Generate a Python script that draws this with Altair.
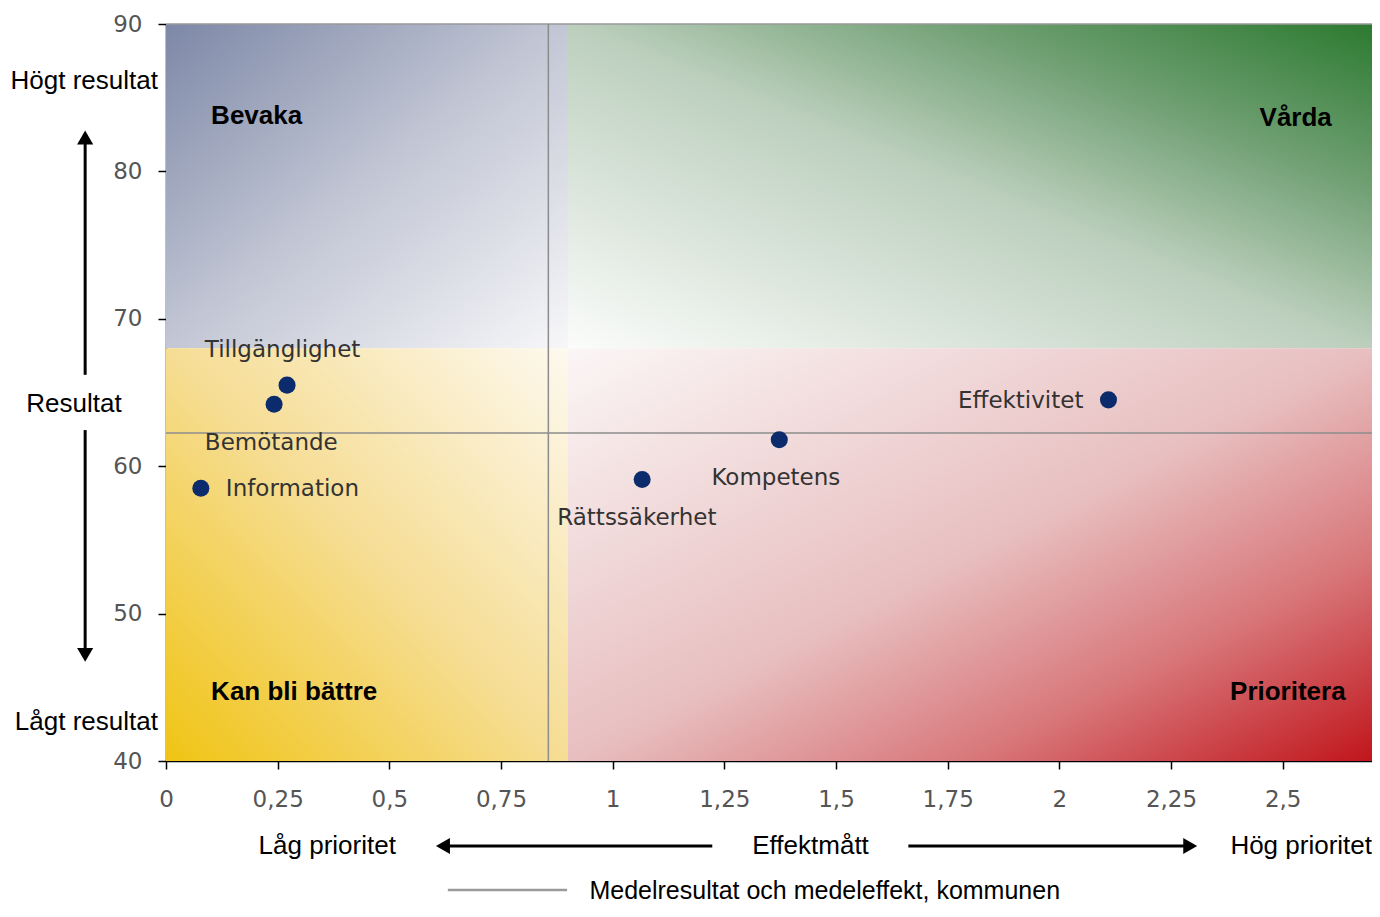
import altair as alt
import pandas as pd

# ---------------- data ----------------
names = ["Tillgänglighet", "Bemötande", "Information", "Rättssäkerhet", "Kompetens", "Effektivitet"]
effekt = [0.271, 0.242, 0.078, 1.066, 1.373, 2.110]
resultat = [65.5, 64.2, 58.5, 59.1, 61.8, 64.5]
label_x = [0.087, 0.087, 0.134, 0.876, 1.221, 2.054]
label_y = [67.9, 61.6, 58.45, 56.5, 59.2, 64.4]
label_align = ["left", "left", "left", "left", "left", "right"]

mean_effekt = 0.856
mean_resultat = 62.25

x_domain = [0, 2.7]
y_domain = [40, 90]
x_ticks = [0, 0.25, 0.5, 0.75, 1, 1.25, 1.5, 1.75, 2, 2.25, 2.5]
y_ticks = [40, 50, 60, 70, 80, 90]

quad_split_x = 0.9
quad_split_y = 68
quad_ids = ["TL", "TR", "BL", "BR"]
quad_x = [x_domain[0], quad_split_x, x_domain[0], quad_split_x]
quad_x2 = [quad_split_x, x_domain[1], quad_split_x, x_domain[1]]
quad_y = [quad_split_y, quad_split_y, y_domain[0], y_domain[0]]
quad_y2 = [y_domain[1], y_domain[1], quad_split_y, quad_split_y]

quad_names = ["Bevaka", "Vårda", "Kan bli bättre", "Prioritera"]
quad_label_x = [0.101, 2.61, 0.101, 2.641]
quad_label_y = [83.76, 83.6, 44.7, 44.7]
quad_label_align = ["left", "right", "left", "right"]

side_texts = ["Högt resultat", "Resultat", "Lågt resultat"]
side_x = [-0.018, -0.206, -0.018]
side_y = [86.13, 64.2, 42.65]
side_align = ["right", "center", "right"]

bottom_texts = ["Låg prioritet", "Effektmått", "Hög prioritet"]
bottom_x = [0.361, 1.443, 2.7]
bottom_y = [34.23, 34.23, 34.23]
bottom_align = ["center", "center", "right"]

arrow_v_x = -0.181
arrow_v_segments = [(66.2, 82.3), (47.2, 62.45)]
arrow_v_heads = [(82.3, "triangle-up"), (47.2, "triangle-down")]
arrow_h_y = 34.23
arrow_h_segments = [(0.62, 1.223), (1.662, 2.293)]
arrow_h_heads = [(0.62, "triangle-left"), (2.293, "triangle-right")]

legend_line = (0.631, 0.898, 31.25)
legend_text = "Medelresultat och medeleffekt, kommunen"
legend_text_pos = (0.948, 31.15)

# ---------------- encodings ----------------
xscale = alt.Scale(domain=x_domain, nice=False, zero=False)
yscale = alt.Scale(domain=y_domain, nice=False, zero=False)
xaxis = alt.Axis(values=x_ticks, labelExpr="replace(toString(datum.value), '.', ',')",
                 title=None, grid=False, domainColor="black", domainWidth=1.5,
                 tickColor="black", tickWidth=1.5, tickSize=8, labelPadding=19,
                 labelFont="DejaVu Sans", labelFontSize=23, labelColor="#555555",
                 labelFlush=False)
yaxis = alt.Axis(values=y_ticks, title=None, grid=False, domainColor="black", domainWidth=1.5,
                 tickColor="black", tickWidth=1.5, tickSize=8, labelPadding=16,
                 labelFont="DejaVu Sans", labelFontSize=23, labelColor="#555555",
                 labelFlush=False)


def X(f, **kw):
    return alt.X(f, type="quantitative", scale=xscale, axis=xaxis, **kw)


def Y(f, **kw):
    return alt.Y(f, type="quantitative", scale=yscale, axis=yaxis, **kw)


quad_df = pd.DataFrame({"q": quad_ids, "x": quad_x, "x2": quad_x2, "y": quad_y, "y2": quad_y2})

grads = {
    "TL": alt.LinearGradient(gradient="linear", x1=0, y1=0, x2=1, y2=1,
                             stops=[alt.GradientStop(offset=0, color="#7d88a7"),
                                    alt.GradientStop(offset=0.5, color="#c3c7d5"),
                                    alt.GradientStop(offset=1, color="#f7f7f9")]),
    "TR": alt.LinearGradient(gradient="linear", x1=1, y1=0, x2=0, y2=1,
                             stops=[alt.GradientStop(offset=0, color="#2c7a30"),
                                    alt.GradientStop(offset=0.25, color="#6f9f72"),
                                    alt.GradientStop(offset=0.5, color="#bccfbd"),
                                    alt.GradientStop(offset=1, color="#fbfcfb")]),
    "BL": alt.LinearGradient(gradient="linear", x1=0, y1=1, x2=1, y2=0,
                             stops=[alt.GradientStop(offset=0, color="#f0c414"),
                                    alt.GradientStop(offset=0.5, color="#f6dd94"),
                                    alt.GradientStop(offset=1, color="#fdf9ef")]),
    "BR": alt.LinearGradient(gradient="linear", x1=1, y1=1, x2=0, y2=0,
                             stops=[alt.GradientStop(offset=0, color="#c0161c"),
                                    alt.GradientStop(offset=0.25, color="#d8777a"),
                                    alt.GradientStop(offset=0.5, color="#e8bfc0"),
                                    alt.GradientStop(offset=1, color="#fbf6f6")]),
}

layers = []
for q in quad_ids:
    layers.append(
        alt.Chart(quad_df).transform_filter(alt.datum.q == q)
        .mark_rect(fill=grads[q], stroke=None)
        .encode(x=X("x"), x2="x2", y=Y("y"), y2="y2")
    )

# top border
top_df = pd.DataFrame({"x": [x_domain[0]], "x2": [x_domain[1]], "y": [y_domain[1]]})
layers.append(alt.Chart(top_df).mark_rule(color="#9a9a9a", strokeWidth=1.5)
              .encode(x=X("x"), x2="x2", y=Y("y")))

# mean lines
mean_h = pd.DataFrame({"x": [x_domain[0]], "x2": [x_domain[1]], "y": [mean_resultat]})
mean_v = pd.DataFrame({"x": [mean_effekt], "y": [y_domain[0]], "y2": [y_domain[1]]})
layers.append(alt.Chart(mean_h).mark_rule(color="#8c8c8c", strokeWidth=1.5)
              .encode(x=X("x"), x2="x2", y=Y("y")))
layers.append(alt.Chart(mean_v).mark_rule(color="#8c8c8c", strokeWidth=1.5)
              .encode(x=X("x"), y=Y("y"), y2="y2"))

# points
pts = pd.DataFrame({"name": names, "effekt": effekt, "resultat": resultat})
layers.append(alt.Chart(pts).mark_circle(size=290, color="#0b2b6c", opacity=1)
              .encode(x=X("effekt"), y=Y("resultat")))

# point labels
lab = pd.DataFrame({"name": names, "x": label_x, "y": label_y, "align": label_align})
for al in ["left", "right"]:
    layers.append(alt.Chart(lab).transform_filter(alt.datum.align == al)
                  .mark_text(align=al, baseline="middle", font="DejaVu Sans", fontSize=23,
                             color="#333333")
                  .encode(x=X("x"), y=Y("y"), text="name:N"))

# quadrant labels
ql = pd.DataFrame({"name": quad_names, "x": quad_label_x, "y": quad_label_y, "align": quad_label_align})
for al in ["left", "right"]:
    layers.append(alt.Chart(ql).transform_filter(alt.datum.align == al)
                  .mark_text(align=al, baseline="middle", font="Liberation Sans", fontSize=26,
                             fontWeight="bold", color="black")
                  .encode(x=X("x"), y=Y("y"), text="name:N"))

# side & bottom texts
st = pd.DataFrame({"t": side_texts + bottom_texts, "x": side_x + bottom_x,
                   "y": side_y + bottom_y, "align": side_align + bottom_align})
for al in ["left", "center", "right"]:
    layers.append(alt.Chart(st).transform_filter(alt.datum.align == al)
                  .mark_text(align=al, baseline="middle", font="Liberation Sans", fontSize=26,
                             color="black")
                  .encode(x=X("x"), y=Y("y"), text="t:N"))

# arrows
av = pd.DataFrame({"x": [arrow_v_x] * 2, "y": [s[0] for s in arrow_v_segments],
                   "y2": [s[1] for s in arrow_v_segments]})
layers.append(alt.Chart(av).mark_rule(color="black", strokeWidth=3)
              .encode(x=X("x"), y=Y("y"), y2="y2"))
ah = pd.DataFrame({"y": [arrow_h_y] * 2, "x": [s[0] for s in arrow_h_segments],
                   "x2": [s[1] for s in arrow_h_segments]})
layers.append(alt.Chart(ah).mark_rule(color="black", strokeWidth=3)
              .encode(x=X("x"), x2="x2", y=Y("y")))
for yv, shp in arrow_v_heads:
    d = pd.DataFrame({"x": [arrow_v_x], "y": [yv]})
    layers.append(alt.Chart(d).mark_point(shape=shp, filled=True, size=260, color="black", opacity=1)
                  .encode(x=X("x"), y=Y("y")))
for xv, shp in arrow_h_heads:
    d = pd.DataFrame({"x": [xv], "y": [arrow_h_y]})
    layers.append(alt.Chart(d).mark_point(shape=shp, filled=True, size=260, color="black", opacity=1)
                  .encode(x=X("x"), y=Y("y")))

# legend
lg = pd.DataFrame({"x": [legend_line[0]], "x2": [legend_line[1]], "y": [legend_line[2]]})
layers.append(alt.Chart(lg).mark_rule(color="#9a9a9a", strokeWidth=2.5)
              .encode(x=X("x"), x2="x2", y=Y("y")))
lt = pd.DataFrame({"t": [legend_text], "x": [legend_text_pos[0]], "y": [legend_text_pos[1]]})
layers.append(alt.Chart(lt).mark_text(align="left", baseline="middle", font="Liberation Sans",
                                      fontSize=25, color="black")
              .encode(x=X("x"), y=Y("y"), text="t:N"))

chart = alt.layer(*layers).properties(
    width=1206, height=737,
    autosize=alt.AutoSizeParams(type="none"),
    padding={"left": 158, "top": 16, "right": 0, "bottom": 148},
    background="white",
).configure_view(stroke=None)

chart.save("out.html", embed_options={"renderer": "svg", "actions": False})
